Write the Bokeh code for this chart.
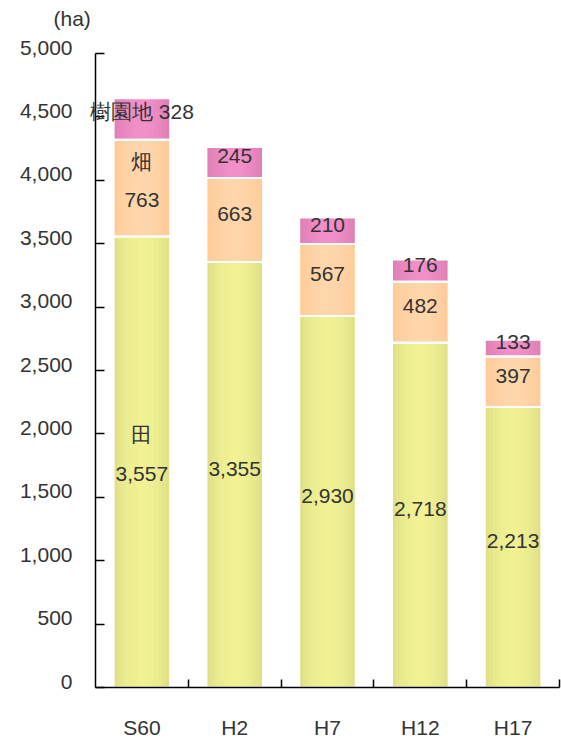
from bokeh.plotting import figure
from bokeh.models import (ColumnDataSource, FixedTicker, NumeralTickFormatter, Range1d,
                          LabelSet, Label, LinearAxis)
from bokeh.core.properties import value
from bokeh.embed import file_html
from bokeh.resources import INLINE
import numpy as np

# ---- data ----
categories = ["S60", "H2", "H7", "H12", "H17"]
paddy = [3557, 3355, 2930, 2718, 2213]     # 田
field = [763, 663, 567, 482, 397]          # 畑
orchard = [328, 245, 210, 176, 133]        # 樹園地
series_keys = ["paddy", "field", "orchard"]
series_names = ["田", "畑", "樹園地"]
y_ticks = [0, 500, 1000, 1500, 2000, 2500, 3000, 3500, 4000, 4500, 5000]
y_max = 5000
unit_label = "(ha)"

# ---- style / layout ----
FONT = "Liberation Sans"
FS = "21px"
TXT = "#333333"
edge_colors = ["#e0e087", "#ffcb99", "#df80b6"]
center_colors = ["#fafa9c", "#ffdcb6", "#fc96d0"]
BAR_W = 0.61
W, H = 561, 740
AX_LEFT, AX_RIGHT = 95, 559      # px extent of category axis
AX_TOP, AX_BOTTOM = 53, 687      # px extent of value axis
LABEL_LIFT = 6                   # px the value tick labels sit above their ticks

n = len(categories)
x = np.arange(n) + 0.5
cat_px = (AX_RIGHT - AX_LEFT) / n
val_px = (AX_BOTTOM - AX_TOP) / y_max
y0 = -(H - AX_BOTTOM) / val_px
y1 = y_max + AX_TOP / val_px
x_range = Range1d(-AX_LEFT / cat_px, n + (W - AX_RIGHT) / cat_px)
y_range = Range1d(y0, y1)

p = figure(width=W, height=H, x_range=x_range, y_range=y_range,
           output_backend="svg", toolbar_location=None,
           min_border=0, min_border_left=0, min_border_right=0,
           min_border_top=0, min_border_bottom=0)
p.outline_line_color = None
p.xgrid.visible = False
p.ygrid.visible = False
lift = LABEL_LIFT / val_px
p.extra_y_ranges = {"labels": Range1d(y0 - lift, y1 - lift)}

src = ColumnDataSource(dict(x=x, paddy=paddy, field=field, orchard=orchard))
# base bars
p.vbar_stack(series_keys, x="x", width=BAR_W, source=src,
             fill_color=edge_colors, line_color=None)
# soft central highlight
steps = 6
for i in range(1, steps + 1):
    p.vbar_stack(series_keys, x="x", width=BAR_W * (1 - i / (steps + 1)), source=src,
                 fill_color=center_colors, fill_alpha=0.2, line_color=None)
# white separators
p.vbar_stack(series_keys, x="x", width=BAR_W, source=src,
             fill_color=None, line_color="white", line_width=2)

# ---- value labels ----
data = [np.array(paddy), np.array(field), np.array(orchard)]
bottom = np.zeros(n)
for k, vals in enumerate(data):
    mid = bottom + vals / 2
    bottom = bottom + vals
    texts = [f"{v:,}" for v in vals]
    dy = [6.0] * n
    if k == 2:
        texts[0] = f"{series_names[k]} {vals[0]:,}"
        dy[0] = 7.0
    else:
        dy[0] = -12.0
    s = ColumnDataSource(dict(x=x, y=mid, t=texts, dy=dy))
    p.add_layout(LabelSet(x="x", y="y", text="t", y_offset="dy", source=s,
                          text_align="center", text_baseline="middle",
                          text_font=value(FONT), text_font_size=value(FS),
                          text_color=TXT))
    if k < 2:
        ns = ColumnDataSource(dict(x=x[:1], y=mid[:1], t=[series_names[k]]))
        p.add_layout(LabelSet(x="x", y="y", text="t", y_offset=27, source=ns,
                              text_align="center", text_baseline="middle",
                              text_font=value(FONT), text_font_size=value(FS),
                              text_color=TXT))

p.add_layout(Label(x=0, y=y_max, x_offset=-42, y_offset=35, text=unit_label,
                   text_align="left", text_baseline="middle",
                   text_font=FONT, text_font_size=FS, text_color=TXT))

# ---- axes ----
xa = p.xaxis[0]
xa.fixed_location = 0
xa.bounds = (0, n)
xa.ticker = FixedTicker(ticks=list(x), minor_ticks=list(range(1, n + 1)))
xa.major_label_overrides = {float(xi): c for xi, c in zip(x, categories)}
xa.major_tick_in = 0
xa.major_tick_out = 0
xa.minor_tick_in = 8
xa.minor_tick_out = 0
xa.minor_tick_line_color = "black"
xa.minor_tick_line_width = 1.5
xa.axis_line_color = "black"
xa.axis_line_width = 1.5
xa.major_label_standoff = 28
xa.major_label_text_font = FONT
xa.major_label_text_font_size = FS
xa.major_label_text_color = TXT

# value axis: line + ticks
ya = p.yaxis[0]
ya.fixed_location = 0
ya.bounds = (0, y_max)
ya.ticker = FixedTicker(ticks=y_ticks)
ya.major_tick_in = 9
ya.major_tick_out = 0
ya.major_tick_line_color = "black"
ya.major_tick_line_width = 1.5
ya.minor_tick_line_color = None
ya.axis_line_color = "black"
ya.axis_line_width = 1.5
ya.major_label_text_font_size = "0px"
ya.major_label_text_color = None

# value axis: tick labels (sit slightly above their ticks)
yl = LinearAxis(y_range_name="labels", fixed_location=0, bounds=(0, y_max),
                ticker=FixedTicker(ticks=y_ticks),
                formatter=NumeralTickFormatter(format="0,0"),
                axis_line_color=None, major_tick_line_color=None,
                minor_tick_line_color=None, major_tick_in=0, major_tick_out=0,
                major_label_standoff=23, major_label_text_font=FONT,
                major_label_text_font_size=FS, major_label_text_color=TXT)
p.add_layout(yl, "left")

open("out.html", "w").write(file_html(p, INLINE))
